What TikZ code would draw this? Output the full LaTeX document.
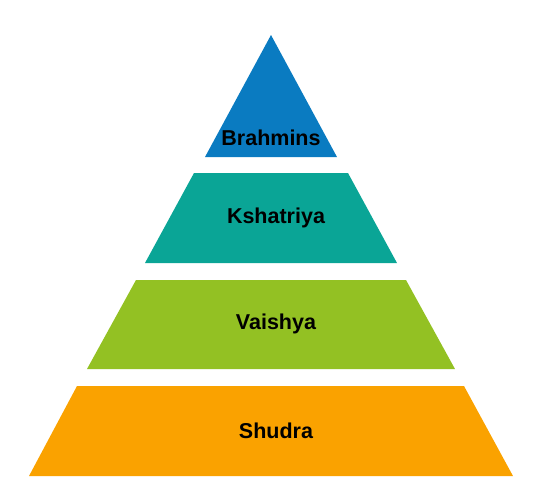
\documentclass[tikz,border=0pt]{standalone}
\usepackage{fontspec}
\setmainfont{Liberation Sans}
\usetikzlibrary{positioning}
\definecolor{castblue}{HTML}{0A7BC1}
\definecolor{castteal}{HTML}{0AA596}
\definecolor{castgreen}{HTML}{93C123}
\definecolor{castorange}{HTML}{FAA200}

\begin{document}
\begin{tikzpicture}[x=1pt, y=-1pt,
      layer/.style={draw=none},
      caste/.style={font=\fontsize{21.5}{25}\selectfont\bfseries, text=black, inner sep=0pt}
    ]
      \useasboundingbox (0,0) rectangle (542,493);
      % layers of the pyramid, top to bottom
      \fill[castblue] (271,35) -- (337,157) -- (205,157) -- cycle;
      \fill[castteal] (194,173) -- (348,173) -- (397,263) -- (145,263) -- cycle;
      \fill[castgreen] (136,280) -- (406,280) -- (455,369) -- (87,369) -- cycle;
      \fill[castorange] (77,386) -- (464,386) -- (513,476) -- (29,476) -- cycle;
      % labels
      \node[caste] (brahmins) at (271,138) {Brahmins};
      \node[caste] (kshatriya) at (276,218) {Kshatriya};
      \node[caste] (vaishya) at (276,324) {Vaishya};
      \node[caste] (shudra) at (276,431) {Shudra};
    \end{tikzpicture}
\end{document}
